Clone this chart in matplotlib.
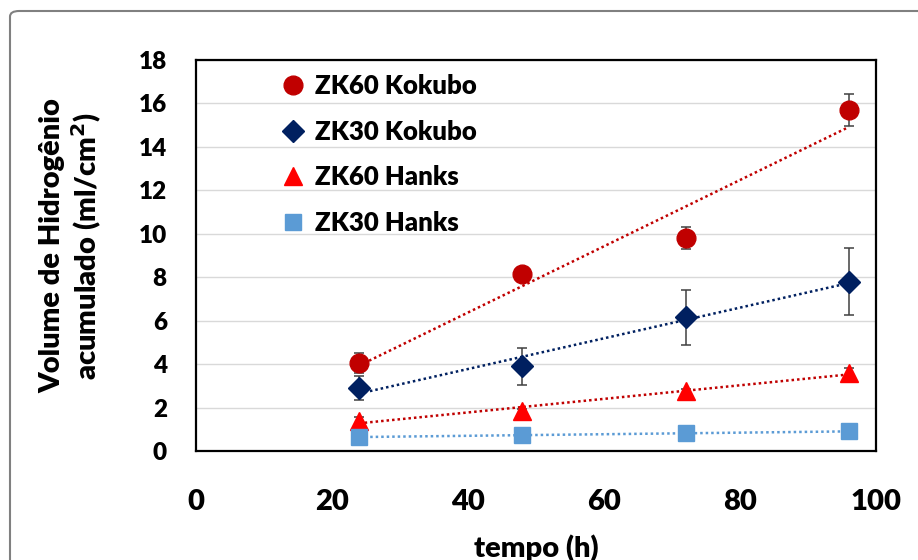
import numpy as np
import matplotlib
matplotlib.use('Agg')
import matplotlib.pyplot as plt
from matplotlib.patches import FancyBboxPatch

# =======================
# Data
# =======================
tempo = [24, 48, 72, 96]

zk60_kokubo = [4.05, 8.15, 9.8, 15.7]
zk60_kokubo_err = [0.45, 0.3, 0.5, 0.75]

zk30_kokubo = [2.9, 3.9, 6.15, 7.8]
zk30_kokubo_err = [0.55, 0.85, 1.25, 1.55]

zk60_hanks = [1.4, 1.85, 2.75, 3.6]
zk60_hanks_err = [0.15, 0.1, 0.1, 0.2]

zk30_hanks = [0.64, 0.73, 0.82, 0.9]
zk30_hanks_err = [0.05, 0.05, 0.05, 0.05]

x_ticks = [0, 20, 40, 60, 80, 100]
y_ticks = [0, 2, 4, 6, 8, 10, 12, 14, 16, 18]

# =======================
# Setting
# =======================
W = 'heavy'
plt.rcParams['font.family'] = ['Lato', 'DejaVu Sans']
plt.rcParams['font.weight'] = W

series = [
    ('ZK60 Kokubo', zk60_kokubo, zk60_kokubo_err, 'o', 13.5, '#C00000', '#C00000'),
    ('ZK30 Kokubo', zk30_kokubo, zk30_kokubo_err, 'D', 11.5, '#002060', '#002060'),
    ('ZK60 Hanks', zk60_hanks, zk60_hanks_err, '^', 12.5, '#FF0000', '#C00000'),
    ('ZK30 Hanks', zk30_hanks, zk30_hanks_err, 's', 11.5, '#5B9BD5', '#5B9BD5'),
]

fig = plt.figure(figsize=(9.18, 5.6), dpi=100)
ax = fig.add_axes([196 / 918, 1 - 451 / 560, 680 / 918, 391 / 560])

x = np.array(tempo, dtype=float)
for label, vals, err, marker, ms, color, tcolor in series:
    # linear trendline (like excel)
    coef = np.polyfit(x, vals, 1)
    xs = np.array([x.min(), x.max()])
    ax.plot(xs, np.polyval(coef, xs), linestyle=(0, (1, 1.2)), color=tcolor,
            linewidth=1.8, zorder=2)
    ax.errorbar(x, vals, yerr=err, fmt='none', ecolor='#404040',
                elinewidth=1.1, capsize=3.6, capthick=1.1, zorder=3)
    ax.plot(x, vals, linestyle='none', marker=marker, markersize=ms,
            color=color, markeredgecolor=color, label=label, zorder=4)

ax.set_xlim(0, 100)
ax.set_ylim(0, 18)
ax.set_xticks(x_ticks)
ax.set_yticks(y_ticks)
ax.tick_params(axis='x', length=0, pad=27, labelsize=21)
ax.tick_params(axis='y', length=0, pad=21, labelsize=17.5)
ax.grid(True, axis='y', color='#D9D9D9', linewidth=1.0)
ax.set_axisbelow(True)
for sp in ax.spines.values():
    sp.set_linewidth(1.6)
    sp.set_color('black')

ax.set_xlabel('tempo (h)', fontsize=21, fontweight=W, labelpad=14)

fig.text(72 / 918, 1 - 246 / 560, 'Volume de Hidrogênio\nacumulado (ml/cm$^\\mathbf{2}$)',
         rotation=90, ha='center', va='center', fontsize=21, fontweight=W,
         linespacing=1.15)

leg = ax.legend(loc='upper left', bbox_to_anchor=(0.097, 1.01), frameon=False,
                fontsize=18.5, handlelength=1.0, handletextpad=0.35,
                labelspacing=0.84, borderaxespad=0.3)

# outer chart border
border = FancyBboxPatch((10 / 918, -0.2), 1.2, 1.2 - 11 / 560,
                        boxstyle='round,pad=0,rounding_size=0.01',
                        transform=fig.transFigure, facecolor='none',
                        edgecolor='#808080', linewidth=1.5, clip_on=False)
fig.patches.append(border)

plt.savefig('out.png', dpi=100)
plt.close()
